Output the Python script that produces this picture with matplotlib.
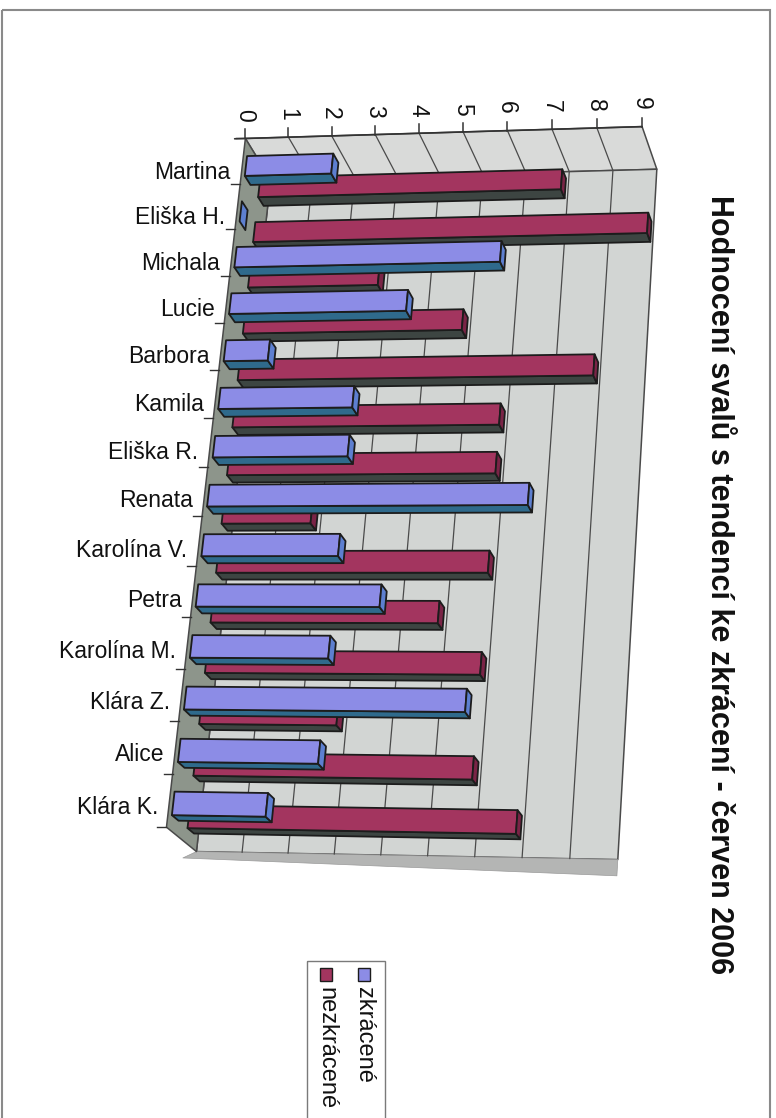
import numpy as np
import matplotlib
matplotlib.use("Agg")
import matplotlib.pyplot as plt
from matplotlib.patches import Polygon, Rectangle

# data
names = ["Martina", "Eliška H.", "Michala", "Lucie", "Barbora", "Kamila", "Eliška R.",
         "Renata", "Karolína V.", "Petra", "Karolína M.", "Klára Z.", "Alice", "Klára K."]
zkracene = [2, 0, 6, 4, 1, 3, 3, 7, 3, 4, 3, 6, 3, 2]
nezkracene = [7, 9, 3, 5, 8, 6, 6, 2, 6, 5, 6, 3, 6, 7]
value_ticks = list(range(10))
series_labels = ["zkrácené", "nezkrácené"]
title = "Hodnocení svalů s tendencí ke zkrácení - červen 2006"

W, H = 776, 1118
VMAX = value_ticks[-1]
NCAT = len(names)
FONT = "Liberation Sans"

# colours: front face, side face, end cap
COLORS = [("#8c8ce6", "#2f6a8c", "#5d7fd0"),
          ("#a3355f", "#3d4542", "#7a2446")]
BACK_WALL = "#d2d5d3"
SIDE_WALL = "#d9dad9"
FLOOR = "#8d958b"
EDGE = "#1c1c1c"
GRID = "#4a4a4a"

# perspective camera fitted to the corners of the plot box
# world coords: (value, category, depth) -> pixel position
box_world = [(0, 0, 0), (VMAX, 0, 0), (VMAX, 0, 1), (0, 0, 1),
             (0, NCAT, 0), (VMAX, NCAT, 0), (0, NCAT, 1), (VMAX, NCAT, 1)]
box_pixel = [(248, 139), (642, 125), (657, 171), (268, 179),
             (166, 829), (598, 834), (197, 850), (620, 860)]


def fit_camera(world, pixel):
    T = np.array([[1 / 400, 0, -1], [0, 1 / 400, -1.25], [0, 0, 1]])
    rows = []
    for (X, Y, Z), (u, v) in zip(world, pixel):
        u, v, _ = T @ [u, v, 1]
        rows.append([X, Y, Z, 1, 0, 0, 0, 0, -u * X, -u * Y, -u * Z, -u])
        rows.append([0, 0, 0, 0, X, Y, Z, 1, -v * X, -v * Y, -v * Z, -v])
    _, _, vt = np.linalg.svd(np.array(rows, dtype=float))
    return np.linalg.inv(T) @ vt[-1].reshape(3, 4)


P = fit_camera(box_world, box_pixel)


def proj(v, c, d):
    p = P @ np.array([v, c, d, 1.0])
    return p[0] / p[2], p[1] / p[2]


def face(ax, pts, color, z, lw=1.0, ec=EDGE):
    xy = [proj(*p) for p in pts]
    ax.add_patch(Polygon(xy, closed=True, fc=color, ec=ec, lw=lw, zorder=z,
                         joinstyle="round"))


def line3(ax, a, b, color=GRID, lw=0.9, z=2):
    (x0, y0), (x1, y1) = proj(*a), proj(*b)
    ax.plot([x0, x1], [y0, y1], color=color, lw=lw, zorder=z,
            solid_capstyle="round")


fig = plt.figure(figsize=(W / 100, H / 100), dpi=100)
ax = fig.add_axes([0, 0, 1, 1])
ax.set_xlim(0, W)
ax.set_ylim(H, 0)
ax.axis("off")

# outer frame
ax.add_patch(Rectangle((1.5, 10), W - 8, H, fill=False, ec="#8a8a8a", lw=1.5))

# walls and floor
face(ax, [(0, 0, 0), (VMAX, 0, 0), (VMAX, 0, 1), (0, 0, 1)], SIDE_WALL, 1, lw=1.1, ec=GRID)
face(ax, [(0, 0, 1), (VMAX, 0, 1), (VMAX, NCAT, 1), (0, NCAT, 1)], BACK_WALL, 1, lw=1.1, ec=GRID)
face(ax, [(0, 0, 0), (0, NCAT, 0), (0, NCAT, 1), (0, 0, 1)], FLOOR, 1.5, lw=1.1, ec=GRID)
face(ax, [(0, NCAT, 1), (VMAX, NCAT, 1), (VMAX, NCAT + 0.3, 1), (0, NCAT + 0.3, 0.6)],
     "#b4b5b4", 1, lw=0.5, ec="#9a9a9a")

for k in value_ticks[1:-1]:
    line3(ax, (k, 0, 0), (k, 0, 1))
    line3(ax, (k, 0, 1), (k, NCAT, 1))

# value axis along the front edge of the side wall
line3(ax, (-0.25, 0, 0), (VMAX, 0, 0), color="#333333", lw=1.2, z=2.5)
for k in value_ticks:
    x, y = proj(k, 0, 0)
    ax.plot([x, x], [y, y - 9], color="#333333", lw=1.1, zorder=2.5)
    ax.text(x - 1, y - 23, str(k), rotation=-90, ha="center", va="center",
            fontsize=16.5, family=FONT, color="#111111")

# category ticks and labels on the front edge of the floor
for j in range(NCAT + 1):
    x, y = proj(0, j, 0)
    ax.plot([x - 9, x], [y, y], color="#333333", lw=1.0, zorder=2.5)
for i, name in enumerate(names):
    x, y = proj(0, i + 0.5, 0.25)
    ax.text(x - 19, y + 1, name, ha="right", va="center", fontsize=16.5,
            family=FONT, color="#111111")

# bars: series sit one behind the other in depth, far ones drawn first
C0, C1 = 0.28, 0.72
DEPTHS = [(0.12, 0.34), (0.64, 0.86)]
z = 3
for i in range(NCAT):
    c0, c1 = i + C0, i + C1
    for s, vals in reversed(list(enumerate([zkracene, nezkracene]))):
        v = vals[i]
        d0, d1 = DEPTHS[s]
        front, side, cap = COLORS[s]
        if v > 0:
            face(ax, [(0, c1, d0), (v, c1, d0), (v, c1, d1), (0, c1, d1)], side, z, lw=1.3)
            face(ax, [(0, c0, d0), (v, c0, d0), (v, c1, d0), (0, c1, d0)], front, z + 0.1, lw=1.3)
        face(ax, [(v, c0, d0), (v, c0, d1), (v, c1, d1), (v, c1, d0)], cap, z + 0.2, lw=1.3)
        z += 1

# title
ax.text(719, 585, title, rotation=-90, ha="center", va="center", fontsize=22,
        fontweight="bold", family=FONT, color="#111111")

# legend
ax.add_patch(Rectangle((307, 961), 78, 170, fill=False, ec="#7a7a7a", lw=1.0))
for s, label in enumerate(series_labels):
    x = 364 - 38 * s
    ax.add_patch(Rectangle((x - 6, 968), 12, 13, fc=COLORS[s][0], ec=EDGE, lw=1.0))
    ax.text(x, 987, label, rotation=-90, ha="center", va="top", fontsize=17,
            family=FONT, color="#111111")

fig.savefig("out.png", dpi=100)
